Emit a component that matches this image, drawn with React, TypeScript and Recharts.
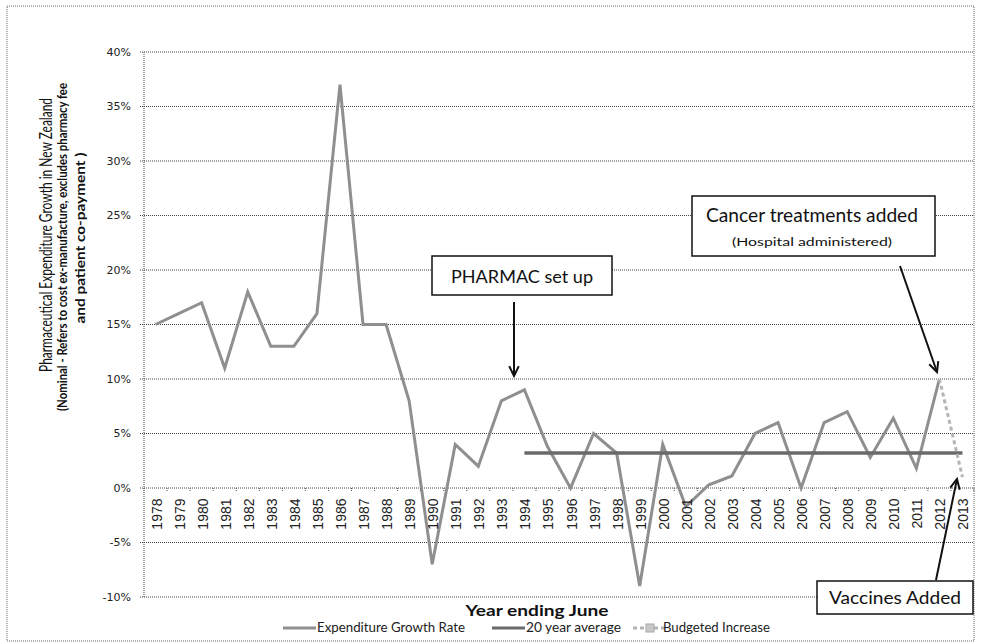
import React from 'react';
import { LineChart, Line, XAxis, YAxis, CartesianGrid, Legend, Label } from 'recharts';

const years = ['1978','1979','1980','1981','1982','1983','1984','1985','1986','1987','1988','1989','1990','1991','1992','1993','1994','1995','1996','1997','1998','1999','2000','2001','2002','2003','2004','2005','2006','2007','2008','2009','2010','2011','2012','2013'];
const growthRate = [15,16,17,11,18,13,13,16,37,15,15,8,-7,4,2,8,9,3.8,0,5,3.2,-9,4,-1.7,0.3,1.1,5,6,0,6,7,2.8,6.4,1.8,10,null];
const twentyYearAverage = [null,null,null,null,null,null,null,null,null,null,null,null,null,null,null,null,3.2,3.2,3.2,3.2,3.2,3.2,3.2,3.2,3.2,3.2,3.2,3.2,3.2,3.2,3.2,3.2,3.2,3.2,3.2,3.2];
const budgetedIncrease = [null,null,null,null,null,null,null,null,null,null,null,null,null,null,null,null,null,null,null,null,null,null,null,null,null,null,null,null,null,null,null,null,null,null,10,1.0];
const yTicks = [-10,-5,0,5,10,15,20,25,30,35,40];
const seriesNames = ['Expenditure Growth Rate', '20 year average', 'Budgeted Increase'];

const data = years.map((year, i) => ({
  year,
  growth: growthRate[i],
  average: twentyYearAverage[i],
  budget: budgetedIncrease[i],
}));

const W = 981;
const H = 644;
const PLOT_LEFT = 144;
const PLOT_RIGHT = 974;
const PLOT_TOP = 52;
const PLOT_BOTTOM = 597;
const Y_MIN = -10;
const Y_MAX = 40;
const BAND = (PLOT_RIGHT - PLOT_LEFT) / years.length;
const ZERO_Y = PLOT_TOP + (PLOT_BOTTOM - PLOT_TOP) * (Y_MAX - 0) / (Y_MAX - Y_MIN);

const CAL = 'Lato, "Open Sans", sans-serif';

const XTick = (props: any) => {
  const { x, payload, index } = props;
  const isLast = index === years.length - 1;
  return (
    <g>
      <line x1={x - BAND / 2} x2={x - BAND / 2} y1={ZERO_Y} y2={ZERO_Y + 4} stroke="#555" strokeDasharray="1 1" />
      {isLast && <line x1={x + BAND / 2} x2={x + BAND / 2} y1={ZERO_Y} y2={ZERO_Y + 4} stroke="#555" strokeDasharray="1 1" />}
      <text
        transform={`translate(${x + 6},${ZERO_Y + 10.5}) rotate(-90)`}
        textAnchor="end"
        fontSize={14}
        fontFamily='"Liberation Sans", Arial, sans-serif'
        fill="#222"
      >
        {payload.value}
      </text>
    </g>
  );
};

const YTitle = () => (
  <g>
    <text transform="translate(52,235) rotate(-90)" textAnchor="middle" fontSize={16.5} fontFamily={CAL} fill="#111" textLength={274} lengthAdjust="spacingAndGlyphs">
      Pharmaceutical Expenditure Growth in New Zealand
    </text>
    <text transform="translate(67,247) rotate(-90)" textAnchor="middle" fontSize={13} fontWeight="bold" fontFamily={CAL} fill="#111" textLength={328} lengthAdjust="spacingAndGlyphs">
      (Nominal - Refers to cost ex-manufacture, excludes pharmacy fee
    </text>
    <text transform="translate(85,238) rotate(-90)" textAnchor="middle" fontSize={13} fontWeight="bold" fontFamily={CAL} fill="#111" textLength={171} lengthAdjust="spacingAndGlyphs">
      and patient co-payment )
    </text>
  </g>
);

const XTitle = () => (
  <text x={537} y={616} textAnchor="middle" fontSize={16} fontWeight="bold" fontFamily={CAL} fill="#111" textLength={143} lengthAdjust="spacingAndGlyphs">
    Year ending June
  </text>
);

const legendMarkerX = [3, 212, 353];
const legendTextX = [37, 246, 383];
const legendTextLen = [148, 95, 107];

const LegendContent = (props: any) => {
  const payload = props.payload || [];
  return (
    <svg width={500} height={22} style={{ display: 'block', overflow: 'visible' }}>
      {payload.map((entry: any) => {
        const i = seriesNames.indexOf(entry.value);
        if (i < 0) return null;
        const mx = legendMarkerX[i];
        const isBudget = i === 2;
        return (
          <g key={entry.value}>
            <line x1={mx} x2={mx + 33} y1={10} y2={10} stroke={entry.color} strokeWidth={3} strokeDasharray={isBudget ? '4 3' : undefined} />
            {isBudget && <rect x={mx + 13} y={6} width={8} height={8} fill="#c8c8c8" stroke="#aaa" />}
            <text x={legendTextX[i]} y={14} fontSize={12.5} fontFamily={CAL} fill="#222" textLength={legendTextLen[i]} lengthAdjust="spacingAndGlyphs">
              {entry.value}
            </text>
          </g>
        );
      })}
    </svg>
  );
};

const ArrowHead = ({ x1, y1, x2, y2 }: { x1: number; y1: number; x2: number; y2: number }) => {
  const ang = Math.atan2(y2 - y1, x2 - x1);
  const len = 11;
  const spread = 0.45;
  const ax = x2 - len * Math.cos(ang - spread);
  const ay = y2 - len * Math.sin(ang - spread);
  const bx = x2 - len * Math.cos(ang + spread);
  const by = y2 - len * Math.sin(ang + spread);
  return (
    <g stroke="#111" strokeWidth={2} fill="none">
      <line x1={x1} y1={y1} x2={x2} y2={y2} />
      <polyline points={`${ax},${ay} ${x2},${y2} ${bx},${by}`} />
    </g>
  );
};

export default function App() {
  return (
    <div style={{ position: 'absolute', left: 0, top: 0, width: W, height: H, background: '#fff' }}>
      <LineChart
        width={W}
        height={H}
        data={data}
        margin={{ top: PLOT_TOP, right: W - PLOT_RIGHT, bottom: H - PLOT_BOTTOM - 1, left: 0 }}
      >
        <CartesianGrid vertical={false} stroke="#444" strokeDasharray="1 1" />
        <XAxis
          dataKey="year"
          type="category"
          interval={0}
          axisLine={false}
          tickLine={false}
          height={1}
          padding={{ left: BAND / 2, right: BAND / 2 }}
          tick={<XTick />}
        >
          <Label content={<XTitle />} />
        </XAxis>
        <YAxis
          type="number"
          domain={[Y_MIN, Y_MAX]}
          ticks={yTicks}
          interval={0}
          width={PLOT_LEFT}
          tickFormatter={(v: number) => `${v}%`}
          axisLine={{ stroke: '#444', strokeDasharray: '1 1' }}
          tickLine={{ stroke: '#444', strokeDasharray: '1 1' }}
          tickSize={4}
          tickMargin={9}
          tick={{ fontSize: 11, fontFamily: '"DejaVu Sans", Verdana, sans-serif', fill: '#222' }}
        >
          <Label content={<YTitle />} />
        </YAxis>
        <Legend
          layout="horizontal"
          verticalAlign="middle"
          align="center"
          wrapperStyle={{ position: 'absolute', left: 280, top: 618, width: 500, height: 22 }}
          content={<LegendContent />}
        />
        <Line name={seriesNames[0]} dataKey="growth" type="linear" stroke="#8f8f8f" strokeWidth={3} dot={false} isAnimationActive={false} />
        <Line name={seriesNames[1]} dataKey="average" type="linear" stroke="#6a6a6a" strokeWidth={3.5} dot={false} isAnimationActive={false} />
        <Line name={seriesNames[2]} dataKey="budget" type="linear" stroke="#b4b4b4" strokeWidth={3} strokeDasharray="4 3" dot={false} isAnimationActive={false} />
      </LineChart>
      <svg width={W} height={H} style={{ position: 'absolute', left: 0, top: 0, pointerEvents: 'none' }}>
        <rect x={7} y={6} width={967} height={635} fill="none" stroke="#666" strokeDasharray="1 1" />
        <rect x={432} y={256} width={180} height={39} fill="#fff" stroke="#111" strokeWidth={1.5} />
        <text x={522} y={283} textAnchor="middle" fontSize={18} fontFamily={CAL} fill="#111" textLength={142} lengthAdjust="spacingAndGlyphs">PHARMAC set up</text>
        <ArrowHead x1={514} y1={302} x2={514} y2={376} />
        <rect x={692} y={196} width={243} height={60} fill="#fff" stroke="#111" strokeWidth={1.5} />
        <text x={812} y={222} textAnchor="middle" fontSize={19} fontFamily={CAL} fill="#111" textLength={212} lengthAdjust="spacingAndGlyphs">Cancer treatments added</text>
        <text x={812} y={246} textAnchor="middle" fontSize={12} fontFamily={CAL} fill="#111" textLength={160} lengthAdjust="spacingAndGlyphs">(Hospital administered)</text>
        <ArrowHead x1={900} y1={266} x2={937} y2={372} />
        <rect x={817} y={581} width={156} height={33} fill="#fff" stroke="#111" strokeWidth={1.5} />
        <text x={895} y={604} textAnchor="middle" fontSize={18} fontFamily={CAL} fill="#111" textLength={132} lengthAdjust="spacingAndGlyphs">Vaccines Added</text>
        <ArrowHead x1={936} y1={580} x2={957} y2={479} />
      </svg>
    </div>
  );
}
